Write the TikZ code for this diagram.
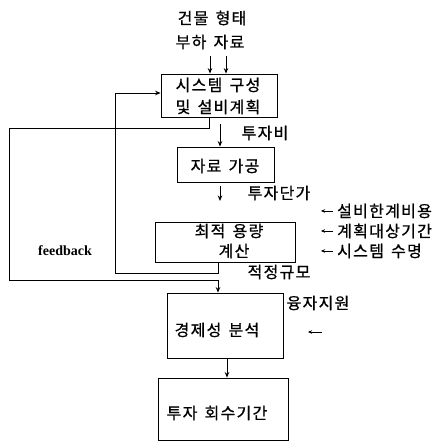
\documentclass[tikz,border=0pt]{standalone}
\usepackage{fontspec}
\setmainfont{Noto Sans CJK KR}[LetterSpace=8, FakeBold=0.8]
\newfontfamily\lat{Liberation Serif}
\usetikzlibrary{arrows.meta}
\newcommand\ws{\hspace{0.45em}}
\begin{document}
\begin{tikzpicture}[x=1pt,y=-1pt,
  box/.style={draw, line width=0.8pt, inner sep=0pt},
  txt/.style={font=\fontsize{16}{22}\selectfont, inner sep=0pt, align=center},
  conn/.style={line width=0.9pt},
  arr/.style={conn, -{Stealth[length=5.5pt,width=4.5pt]}},
  sarr/.style={line width=0.6pt, -{Stealth[length=4pt,width=3.5pt]}}]
\useasboundingbox (0,0) rectangle (448,441);
% boxes
\node[box, minimum width=116pt, minimum height=43pt] (b1) at (219,95.5) {};
\node[box, minimum width=97pt, minimum height=35pt] (b2) at (225.5,164.5) {};
\node[box, minimum width=140pt, minimum height=40pt] (b3) at (225,242) {};
\node[box, minimum width=116pt, minimum height=65pt] (b4) at (225,325.5) {};
\node[box, minimum width=130pt, minimum height=62pt] (b5) at (223,409) {};
% box texts
\node[txt] (t1) at (218,96) {시스템\ws 구성\\및\ws 설비계획};
\node[txt] (t2) at (225,166) {자료\ws 가공};
\node[txt, font=\fontsize{16}{20}\selectfont] (t3) at (229,241) {최적\ws 용량\\\hspace*{10pt}계산};
\node[txt] (t4) at (217,330) {경제성\ws 분석};
\node[txt] (t5) at (217,413) {투자\ws 회수기간};
% top inputs
\node[txt] (in1) at (212,18) {건물\ws 형태};
\node[txt] (in2) at (210,42) {부하\ws 자료};
\draw[arr] (210,56) -- (b1.north -| 210,0);
\draw[arr] (226,56) -- (b1.north -| 226,0);
% side labels
\node[txt] (l1) at (265,133) {투자비};
\node[txt] (l2) at (279,193) {투자단가};
\node[txt] (l3) at (279,272) {적정규모};
\node[txt] (l4) at (318,303) {융자지원};
\node[txt, anchor=west] (r1) at (337,211) {설비한계비용};
\node[txt, anchor=west] (r2) at (337,231) {계획대상기간};
\node[txt, anchor=west] (r3) at (337,251) {시스템\ws 수명};
\node[font=\lat\bfseries\fontsize{14}{16}\selectfont, inner sep=0pt] (fb) at (65,251) {feedback};
% small flow arrows
\coordinate (a1s) at (220,124);
\coordinate (a2s) at (220,186);
\coordinate (a2e) at (220,201);
\draw[arr] (a1s) -- (a1s |- b2.north);
\draw[arr] (a2s) -- (a2e);
\draw[sarr] (r1.west) ++(-4,0) -- ++(-12,0);
\draw[sarr] (r2.west) ++(-4,0) -- ++(-12,0);
\draw[sarr] (r3.west) ++(-4,0) -- ++(-12,0);
\coordinate (fa) at (322,332);
\draw[sarr] (fa) -- ++(-14,0);
% inner feedback loop
\draw[arr] ([xshift=-7pt]b3.south) -- (218,273) -- (115,273) -- (115,93) -- (b1.west |- 0,93);
% outer loop
\draw[arr] ([xshift=-10pt]b1.south) -- (209,128) -- (9,128) -- (9,280) -- (218,280) -- ([xshift=-7pt]b4.north);
% b4 -> b5
\draw[arr] ([xshift=2pt]b4.south) -- ([xshift=2pt]b4.south |- b5.north);
\end{tikzpicture}
\end{document}
